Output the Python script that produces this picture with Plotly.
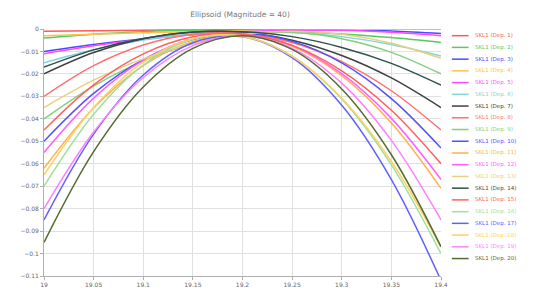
import plotly.graph_objects as go

x_vals = [19.0, 19.05, 19.1, 19.15, 19.2, 19.25, 19.3, 19.35, 19.4]

series_names = [f"SKL1 (Dep. {i})" for i in range(1, 21)]

s01 = [-0.0010, -0.0008, -0.0006, -0.0004, -0.0003, -0.0001, -0.0001, 0.0000, 0.0000]
s02 = [-0.0040, -0.0023, -0.0012, -0.0006, -0.0006, -0.0011, -0.0022, -0.0038, -0.0060]
s03 = [-0.0100, -0.0069, -0.0043, -0.0024, -0.0011, -0.0004, -0.0003, -0.0009, -0.0020]
s04 = [-0.0030, -0.0023, -0.0017, -0.0012, -0.0008, -0.0004, -0.0002, -0.0001, 0.0000]
s05 = [-0.0110, -0.0075, -0.0046, -0.0026, -0.0012, -0.0006, -0.0006, -0.0015, -0.0030]
s06 = [-0.0150, -0.0092, -0.0049, -0.0022, -0.0011, -0.0015, -0.0034, -0.0069, -0.0120]
s07 = [-0.0200, -0.0105, -0.0043, -0.0013, -0.0015, -0.0050, -0.0118, -0.0218, -0.0350]
s08 = [-0.0300, -0.0163, -0.0071, -0.0023, -0.0019, -0.0060, -0.0145, -0.0275, -0.0450]
s09 = [-0.0400, -0.0254, -0.0143, -0.0066, -0.0024, -0.0016, -0.0043, -0.0104, -0.0200]
s10 = [-0.0500, -0.0287, -0.0136, -0.0047, -0.0020, -0.0055, -0.0151, -0.0310, -0.0530]
s11 = [-0.0620, -0.0352, -0.0163, -0.0055, -0.0026, -0.0077, -0.0208, -0.0419, -0.0710]
s12 = [-0.0550, -0.0308, -0.0139, -0.0043, -0.0022, -0.0073, -0.0199, -0.0398, -0.0670]
s13 = [-0.0350, -0.0228, -0.0133, -0.0065, -0.0024, -0.0010, -0.0023, -0.0063, -0.0130]
s14 = [-0.0170, -0.0093, -0.0042, -0.0014, -0.0012, -0.0034, -0.0082, -0.0153, -0.0250]
s15 = [-0.0450, -0.0249, -0.0111, -0.0035, -0.0023, -0.0073, -0.0186, -0.0362, -0.0600]
s16 = [-0.0700, -0.0380, -0.0161, -0.0046, -0.0032, -0.0121, -0.0312, -0.0605, -0.1000]
s17 = [-0.0850, -0.0468, -0.0205, -0.0061, -0.0035, -0.0128, -0.0340, -0.0671, -0.1120]
s18 = [-0.0650, -0.0350, -0.0147, -0.0042, -0.0033, -0.0122, -0.0308, -0.0590, -0.0970]
s19 = [-0.0800, -0.0459, -0.0216, -0.0074, -0.0030, -0.0086, -0.0241, -0.0496, -0.0850]
s20 = [-0.0950, -0.0546, -0.0258, -0.0086, -0.0030, -0.0091, -0.0267, -0.0560, -0.0970]

series_values = [s01, s02, s03, s04, s05, s06, s07, s08, s09, s10,
                 s11, s12, s13, s14, s15, s16, s17, s18, s19, s20]

colors = ["#ff5a5a", "#5cc85c", "#4a4aff", "#ffc04a", "#ff4aff",
          "#7fd6d6", "#404040", "#ff7070", "#80d080", "#5050ff",
          "#ffb050", "#ff60ff", "#e8d080", "#2f4f4f", "#ff6060",
          "#a0e0a0", "#6060ff", "#ffd060", "#ff80ff", "#556b2f"]

y_ticks = [0, -0.01, -0.02, -0.03, -0.04, -0.05, -0.06, -0.07, -0.08, -0.09, -0.1, -0.11]
x_ticks = [19, 19.05, 19.1, 19.15, 19.2, 19.25, 19.3, 19.35, 19.4]

fig = go.Figure()
for name, vals, col in zip(series_names, series_values, colors):
    fig.add_trace(go.Scatter(x=x_vals, y=vals, name=name, mode="lines",
                             line=dict(color=col, width=1.5, shape="spline"),
                             showlegend=False))

# page has an 8px body margin, so the figure is drawn 8px smaller and offset
OFF = 8
W, H = 534 - OFF, 300 - OFF
ml, mr, mt, mb = 38 - OFF, 93, 29 - OFF, 12
pw, ph = W - ml - mr, H - mt - mb

# manual legend (plotly's own legend rows are too tall for 20 items in this height)
shapes, annots = [], []
for i, (name, col) in enumerate(zip(series_names, colors)):
    ypx = 36 - OFF + i * 12.3
    yp = (H - mb - ypx) / ph
    x0 = (452 - OFF - ml) / pw
    x1 = (469 - OFF - ml) / pw
    xt = (473 - OFF - ml) / pw
    shapes.append(dict(type="line", xref="paper", yref="paper", x0=x0, x1=x1, y0=yp, y1=yp,
                       line=dict(color=col, width=1.5)))
    annots.append(dict(xref="paper", yref="paper", x=xt, y=yp, text=name, showarrow=False,
                       xanchor="left", yanchor="middle",
                       font=dict(size=5.5, color=col, family="DejaVu Sans")))

fig.update_layout(
    width=W, height=H,
    margin=dict(l=ml, r=mr, t=mt, b=mb),
    paper_bgcolor="white", plot_bgcolor="white",
    title=dict(text="Ellipsoid (Magnitude = 40)", x=(240 - OFF) / W, xanchor="center",
               y=1 - (14 - OFF) / H, yanchor="middle",
               font=dict(size=7.5, color="#777777", family="DejaVu Sans")),
    shapes=shapes, annotations=annots,
    xaxis=dict(range=[19, 19.4], tickvals=x_ticks, showgrid=True, gridcolor="#e0e0e0",
               gridwidth=1, zeroline=False, showline=True, linecolor="#b0b0b0",
               ticks="outside", ticklen=3, tickcolor="#b0b0b0",
               tickfont=dict(size=6, color="#666666", family="DejaVu Sans")),
    yaxis=dict(range=[-0.11, 0], tickvals=y_ticks, showgrid=True, gridcolor="#e0e0e0",
               gridwidth=1, zeroline=False, showline=True, linecolor="#b0b0b0",
               ticks="outside", ticklen=3, tickcolor="#b0b0b0",
               tickfont=dict(size=6, color="#666666", family="DejaVu Sans")),
)

fig.write_html("out.html")
